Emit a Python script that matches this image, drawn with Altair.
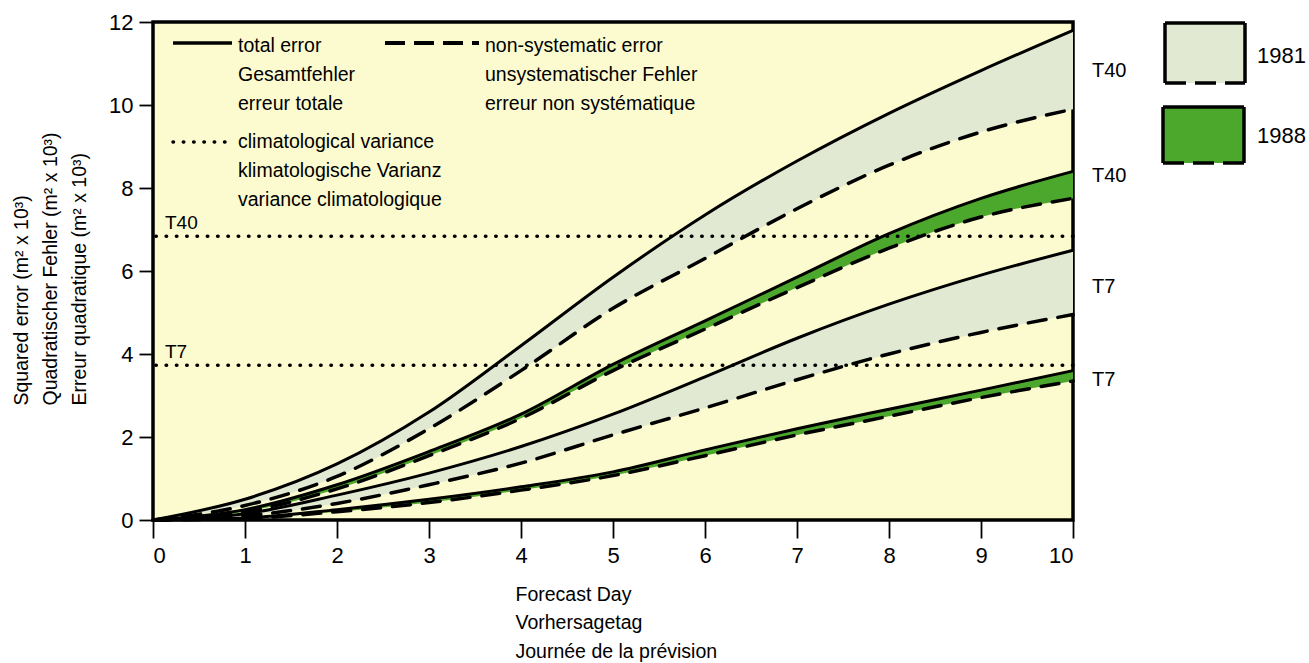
import altair as alt
import pandas as pd

# Forecast day and squared error (m^2 x 10^3) of the 500 hPa height forecasts
days = [0, 1, 2, 3, 4, 5, 6, 7, 8, 9, 10]

t40_1981_total = [0, 0.5, 1.35, 2.6, 4.2, 5.85, 7.35, 8.65, 9.8, 10.83, 11.8]
t40_1981_nonsys = [0, 0.35, 1.05, 2.2, 3.6, 5.1, 6.3, 7.5, 8.55, 9.35, 9.9]
t40_1988_total = [0, 0.25, 0.85, 1.65, 2.55, 3.75, 4.8, 5.85, 6.9, 7.75, 8.4]
t40_1988_nonsys = [0, 0.2, 0.75, 1.55, 2.45, 3.6, 4.6, 5.6, 6.55, 7.3, 7.75]
t7_1981_total = [0, 0.15, 0.6, 1.13, 1.77, 2.55, 3.45, 4.38, 5.2, 5.9, 6.5]
t7_1981_nonsys = [0, 0.1, 0.4, 0.85, 1.37, 2.05, 2.7, 3.38, 4.0, 4.52, 4.95]
t7_1988_total = [0, 0.05, 0.25, 0.5, 0.8, 1.16, 1.69, 2.2, 2.67, 3.13, 3.6]
t7_1988_nonsys = [0, 0.04, 0.2, 0.42, 0.72, 1.07, 1.55, 2.05, 2.5, 2.95, 3.35]

# climatological variance per model resolution
clim_names = ["T40", "T7"]
clim_values = [6.84, 3.73]

# labels at the right-hand end of each band
end_labels = ["T40", "T40", "T7", "T7"]
end_label_pos = [10.83, 8.28, 5.62, 3.38]

years = ["1981", "1988"]
year_colors = ["#E1E9D2", "#4CA82C"]

FONT = "Liberation Sans"
BG = "#FCFBCF"

W, H = 920, 498

series = [
    ("T40 1981", "1981", t40_1981_total, t40_1981_nonsys),
    ("T40 1988", "1988", t40_1988_total, t40_1988_nonsys),
    ("T7 1981", "1981", t7_1981_total, t7_1981_nonsys),
    ("T7 1988", "1988", t7_1988_total, t7_1988_nonsys),
]
rows = []
for name, year, tot, ns in series:
    for d, a, b in zip(days, tot, ns):
        rows.append({"day": d, "total": a, "nonsys": b, "group": name, "year": year})
curves = pd.DataFrame(rows)

clim = pd.DataFrame({"name": clim_names, "value": clim_values})
ends = pd.DataFrame({"name": end_labels, "value": end_label_pos})
anchor = pd.DataFrame({"k": [0]})

x_enc = alt.X(
    "day:Q",
    scale=alt.Scale(domain=[0, 10], nice=False, zero=False),
    axis=alt.Axis(
        values=days,
        format="d",
        title=["Forecast Day", "Vorhersagetag", "Journée de la prévision"],
        titleAlign="left",
        titleAnchor="start",
        titleBaseline="alphabetic",
        titleX=362,
        titleY=80,
        titleLineHeight=28.5,
        titleFontSize=19.5,
        titleFontWeight="normal",
        titleFont=FONT,
        labelFontSize=22,
        labelPadding=7,
        tickSize=18,
        grid=False,
        domain=False,
    ),
)
y_scale = alt.Scale(domain=[0, 12], nice=False)
y_axis = alt.Axis(
    values=[0, 2, 4, 6, 8, 10, 12],
    title=[
        "Squared error (m² x 10³)",
        "Quadratischer Fehler (m² x 10³)",
        "Erreur quadratique (m² x 10³)",
    ],
    titleAngle=270,
    titleAlign="left",
    titleBaseline="top",
    titleX=-141,
    titleY=383,
    titleLineHeight=29,
    titleFontSize=19.5,
    titleFontWeight="normal",
    titleFont=FONT,
    labelFontSize=22,
    labelPadding=6,
    tickSize=14,
    grid=False,
    domain=False,
)

base = alt.Chart(curves)

bands = base.mark_area(interpolate="monotone", opacity=1).encode(
    x=x_enc,
    y=alt.Y("total:Q", scale=y_scale, axis=y_axis),
    y2="nonsys:Q",
    color=alt.Color("year:N", scale=alt.Scale(domain=years, range=year_colors), legend=None),
    detail="group:N",
)

total_lines = base.mark_line(interpolate="monotone", color="black", strokeWidth=3).encode(
    x="day:Q", y="total:Q", detail="group:N"
)

nonsys_lines = base.mark_line(
    interpolate="monotone", color="black", strokeWidth=3.5, strokeDash=[18, 12], strokeCap="round"
).encode(x="day:Q", y="nonsys:Q", detail="group:N")

clim_rules = alt.Chart(clim).mark_rule(
    color="black", strokeWidth=3.5, strokeDash=[0.5, 9.8], strokeCap="round"
).encode(y="value:Q")

clim_text = alt.Chart(clim).mark_text(
    align="left", baseline="alphabetic", dx=0, dy=-7, font=FONT, fontSize=19, color="black"
).encode(x=alt.value(12), y="value:Q", text="name:N")

end_text = alt.Chart(ends).mark_text(
    align="left", baseline="middle", font=FONT, fontSize=20, color="black"
).encode(x=alt.value(939), y="value:Q", text="name:N")

# --- key for the line styles (inside the plot, top left)
a = alt.Chart(anchor)
key_solid = a.mark_rule(color="black", strokeWidth=3.5).encode(
    x=alt.value(20), x2=alt.value(79), y=alt.value(21)
)
key_dash = a.mark_rule(color="black", strokeWidth=4, strokeDash=[20, 9]).encode(
    x=alt.value(232), x2=alt.value(326), y=alt.value(21)
)
key_dot = a.mark_rule(color="black", strokeWidth=3.5, strokeDash=[0.5, 9.8], strokeCap="round").encode(
    x=alt.value(20), x2=alt.value(76), y=alt.value(120)
)
key_text_style = dict(align="left", baseline="alphabetic", font=FONT, fontSize=19.5,
                      lineHeight=29, lineBreak="\n", color="black")
key_t1 = a.mark_text(**key_text_style).encode(
    x=alt.value(85), y=alt.value(30),
    text=alt.value("total error\nGesamtfehler\nerreur totale"),
)
key_t2 = a.mark_text(**key_text_style).encode(
    x=alt.value(332), y=alt.value(30),
    text=alt.value("non-systematic error\nunsystematischer Fehler\nerreur non systématique"),
)
key_t3 = a.mark_text(**key_text_style).encode(
    x=alt.value(85), y=alt.value(126),
    text=alt.value("climatological variance\nklimatologische Varianz\nvariance climatologique"),
)

# --- key for the shaded years (outside the plot, right)
def year_box(x0, x1, y0, y1, fill, label, label_y):
    box = a.mark_rect(fill=fill).encode(
        x=alt.value(x0), x2=alt.value(x1), y=alt.value(y0), y2=alt.value(y1)
    )
    top = a.mark_rule(color="black", strokeWidth=3.5).encode(
        x=alt.value(x0), x2=alt.value(x1), y=alt.value(y0)
    )
    left = a.mark_rule(color="black", strokeWidth=3.5).encode(
        x=alt.value(x0), y=alt.value(y0), y2=alt.value(y1)
    )
    right = a.mark_rule(color="black", strokeWidth=3.5).encode(
        x=alt.value(x1), y=alt.value(y0), y2=alt.value(y1)
    )
    bottom = a.mark_rule(color="black", strokeWidth=3.5, strokeDash=[21, 9]).encode(
        x=alt.value(x0), x2=alt.value(x1), y=alt.value(y1)
    )
    txt = a.mark_text(align="left", baseline="alphabetic", font=FONT, fontSize=22, color="black").encode(
        x=alt.value(1104), y=alt.value(label_y), text=alt.value(label)
    )
    return [box, top, left, right, bottom, txt]

legend_1981 = year_box(1012, 1092, 1, 61, year_colors[0], years[0], 41)
legend_1988 = year_box(1010, 1091, 85, 141, year_colors[1], years[1], 121)

chart = alt.layer(
    bands, clim_rules, total_lines, nonsys_lines, clim_text, end_text,
    key_solid, key_dash, key_dot, key_t1, key_t2, key_t3,
    *legend_1981, *legend_1988,
).properties(
    width=W,
    height=H,
    autosize=alt.AutoSizeParams(type="none"),
    padding={"left": 153, "top": 22, "right": 236, "bottom": 143},
    background="white",
).configure_view(
    fill=BG, stroke="black", strokeWidth=3.5
).configure_axis(
    labelFont=FONT, labelColor="black", tickColor="black", tickWidth=1.8,
    titleColor="black",
)

chart.save("out.html", embed_options={"renderer": "svg", "actions": False})
